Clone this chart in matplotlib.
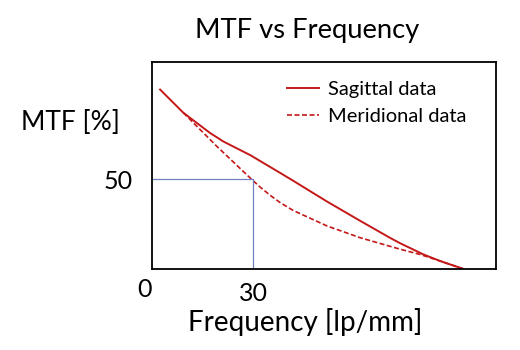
import matplotlib.pyplot as plt

plt.rcParams['font.family'] = ['Lato', 'DejaVu Sans']

# Curve MTF
freq_sag = [2.4, 9.3, 17.2, 21.2, 29.1, 38.0, 41.9, 51.8, 61.7, 70.6, 73.6, 80.5, 85.5, 92.4]
mtf_sag = [99.7, 86.8, 75.6, 70.8, 63.3, 53.4, 49.0, 37.6, 26.8, 17.3, 14.3, 8.1, 4.4, 0]

freq_mer = [9.3, 19.2, 29.1, 32.0, 35.0, 38.0, 41.9, 51.8, 61.7, 70.6, 73.6, 79.5, 85.5, 92.4]
mtf_mer = [86.8, 68.2, 50.6, 45.6, 41.0, 36.9, 32.5, 24.0, 17.4, 12.6, 11.0, 8.1, 4.4, 0]

mtf50_freq = 30
mtf50_val = 50

red = '#C41818'

fig = plt.figure(figsize=(5.2, 3.5), dpi=100)
ax = fig.add_axes([0.2923, 0.2314, 0.6615, 0.5914])

ax.plot(freq_sag, mtf_sag, color=red, lw=1.4, label='Sagittal data')
ax.plot(freq_mer, mtf_mer, color=red, lw=1.2, ls=(0, (3, 1.5)), label='Meridional data')
ax.plot([0, mtf50_freq, mtf50_freq], [mtf50_val, mtf50_val, 0], color='#7080C0', lw=0.9)

ax.set_xlim(0, 102)
ax.set_ylim(0, 115)
for s in ax.spines.values():
    s.set_linewidth(1.3)

ax.set_xticks([30])
ax.set_xticklabels(['30'], fontsize=18)
ax.set_yticks([50])
ax.set_yticklabels(['50'], fontsize=18)
ax.tick_params(axis='y', length=0, pad=14)
ax.tick_params(axis='x', length=0, pad=9)
ax.text(-0.023, -0.1, '0', transform=ax.transAxes, ha='center', va='center', fontsize=18)

ax.set_title('MTF vs Frequency', fontsize=19.7, pad=17, x=0.45)
ax.set_xlabel('Frequency [lp/mm]', fontsize=20)
ax.xaxis.set_label_coords(0.445, -0.19)
ax.set_ylabel('MTF [%]', fontsize=19, rotation=0, ha='center', va='center')
ax.yaxis.set_label_coords(-0.238, 0.71)

ax.legend(loc='upper left', frameon=False, fontsize=14.5, handlelength=1.6,
          handletextpad=0.45, bbox_to_anchor=(0.34, 0.995))

fig.savefig('out.png')
